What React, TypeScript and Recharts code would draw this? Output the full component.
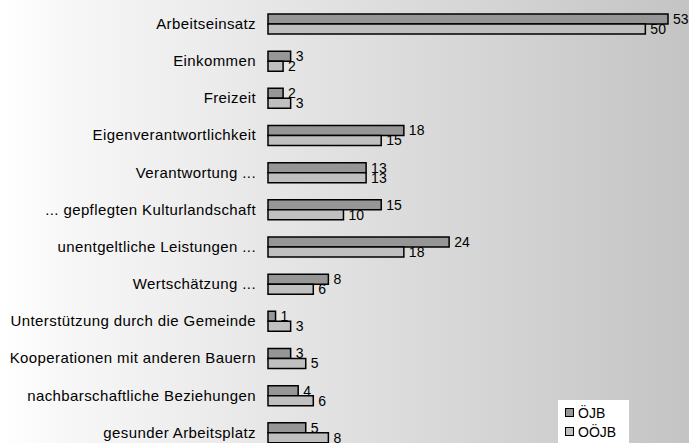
import { Bar, BarChart, LabelList, XAxis, YAxis } from "recharts";

const categories = [
  "Arbeitseinsatz",
  "Einkommen",
  "Freizeit",
  "Eigenverantwortlichkeit",
  "Verantwortung ...",
  "... gepflegten Kulturlandschaft",
  "unentgeltliche Leistungen ...",
  "Wertschätzung ...",
  "Unterstützung durch die Gemeinde",
  "Kooperationen mit anderen Bauern",
  "nachbarschaftliche Beziehungen",
  "gesunder Arbeitsplatz",
];

const oejb = [53, 3, 2, 18, 13, 15, 24, 8, 1, 3, 4, 5];
const ooejb = [50, 2, 3, 15, 13, 10, 18, 6, 3, 5, 6, 8];

const data = categories.map((name, i) => ({ name, oejb: oejb[i], ooejb: ooejb[i] }));

const DARK = "#969696";
const LIGHT = "#c0c0c0";
const FONT = "Liberation Sans, Arial, sans-serif";

const legendItems = [
  { label: "ÖJB", color: DARK },
  { label: "OÖJB", color: LIGHT },
];

function ChartLegend() {
  return (
    <div
      style={{
        position: "absolute",
        left: 558,
        top: 400,
        width: 71,
        boxSizing: "border-box",
        background: "#ffffff",
        padding: "3px 0 4px 7px",
        fontFamily: FONT,
        fontSize: 14,
        color: "#000",
      }}
    >
      {legendItems.map((it) => (
        <div key={it.label} style={{ display: "flex", alignItems: "center", height: 19 }}>
          <span
            style={{
              display: "inline-block",
              width: 7,
              height: 7,
              background: it.color,
              border: "1px solid #000",
              marginRight: 4,
            }}
          />
          {it.label}
        </div>
      ))}
    </div>
  );
}

export default function App() {
  return (
    <div
      style={{
        position: "absolute",
        top: 0,
        left: 0,
        width: 689,
        height: 460,
        background: "linear-gradient(to right, #ffffff 0%, #f7f7f7 10%, #c4c4c4 100%)",
      }}
    >
      <BarChart
        layout="vertical"
        width={689}
        height={456}
        data={data}
        margin={{ top: 5, right: 21, left: 0, bottom: 5 }}
        barSize={10}
        barGap={0}
      >
        <XAxis type="number" domain={[0, 53]} hide />
        <YAxis
          type="category"
          dataKey="name"
          width={268}
          axisLine={false}
          tickLine={false}
          tickMargin={6}
          interval={0}
          tick={{ fill: "#000", fontSize: 15, fontFamily: FONT, letterSpacing: 0.4 }}
        />
        <Bar dataKey="oejb" name="ÖJB" fill={DARK} stroke="#000" strokeWidth={1.5} isAnimationActive={false}>
          <LabelList dataKey="oejb" position="right" offset={5} fill="#000" fontSize={14} fontFamily={FONT} />
        </Bar>
        <Bar dataKey="ooejb" name="OÖJB" fill={LIGHT} stroke="#000" strokeWidth={1.5} isAnimationActive={false}>
          <LabelList dataKey="ooejb" position="right" offset={5} fill="#000" fontSize={14} fontFamily={FONT} />
        </Bar>
      </BarChart>
      <ChartLegend />
    </div>
  );
}
